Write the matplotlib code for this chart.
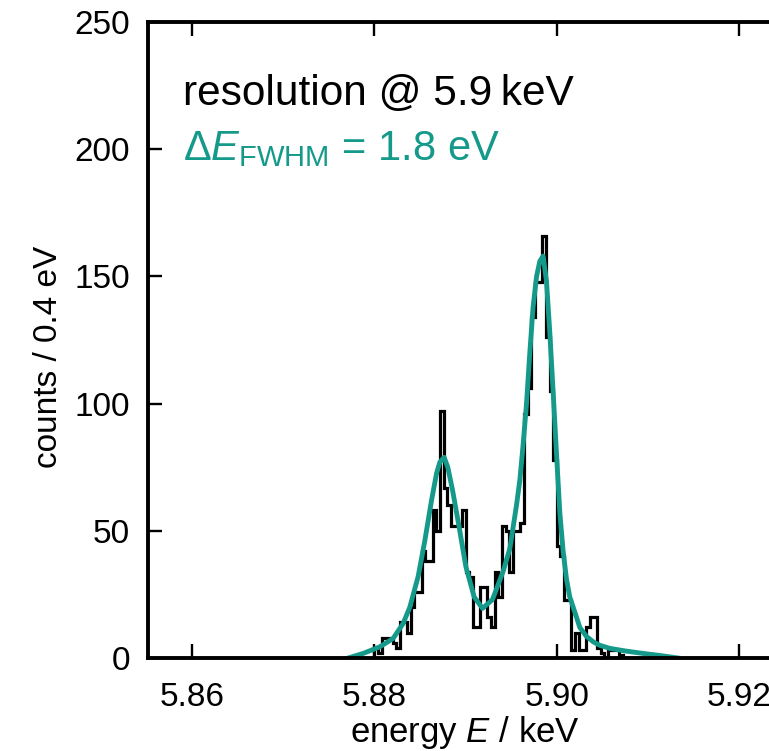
import numpy as np
import matplotlib
matplotlib.use("Agg")
import matplotlib.pyplot as plt

plt.rcParams['font.family'] = ['Liberation Sans', 'DejaVu Sans']
plt.rcParams['mathtext.fontset'] = 'custom'
plt.rcParams['mathtext.rm'] = 'Liberation Sans'
plt.rcParams['mathtext.it'] = 'Liberation Sans:italic'
plt.rcParams['mathtext.bf'] = 'Liberation Sans:bold'

# histogram, 0.4 eV bins starting at 5.8800 keV
bin_start = 5.8800
bin_width = 0.0004
counts = [4, 2, 8, 8, 8, 6, 4, 14, 14, 10,
          20, 26, 26, 42, 38, 38, 58, 50, 97, 67,
          60, 52, 52, 52, 58, 34, 32, 12, 12, 28,
          28, 16, 12, 34, 24, 52, 50, 34, 50, 50,
          53, 96, 106, 134, 148, 148, 166, 126, 105, 78,
          44, 40, 23, 23, 3, 10, 3, 3, 12, 16,
          16, 4, 2, 0, 3, 3, 3, 1, 0, 0]

# fit curve
fit_energy = [5.87713, 5.87877, 5.88060, 5.88206, 5.88316, 5.88389, 5.88480,
              5.88553, 5.88627, 5.88682, 5.88718, 5.88765, 5.88805, 5.88857,
              5.88929, 5.89003, 5.89094, 5.89186, 5.89295, 5.89411, 5.89485,
              5.89558, 5.89595, 5.89631, 5.89668, 5.89704, 5.89740, 5.89778,
              5.89814, 5.89850, 5.89887, 5.89923, 5.89959, 5.89997, 5.90033,
              5.90069, 5.90106, 5.90142, 5.90216, 5.90252, 5.90325, 5.90398,
              5.90471, 5.90581, 5.90745, 5.90946, 5.91129, 5.91329]
fit_counts = [0, 1.8, 4.4, 7.7, 13.6, 20, 32,
              46, 62, 72.6, 77, 78.9, 75, 66,
              51.6, 36, 24, 19.5, 23, 34, 43,
              60, 70, 84, 100, 120, 138, 150,
              156, 158, 148, 128, 105, 80, 57,
              42, 31, 24, 16, 12, 8.5, 6.4,
              5, 3.8, 2.8, 1.8, 1.0, 0]

x_ticks = [5.86, 5.88, 5.90, 5.92]
y_ticks = [0, 50, 100, 150, 200, 250]

teal = '#14998a'

fig = plt.figure(figsize=(7.69, 7.51), dpi=100)
ax = fig.add_axes([0.1925, 0.1238, 0.8306, 0.8469])

edges = bin_start + bin_width * np.arange(len(counts) + 1)
ax.stairs(counts, edges, color='black', lw=2.3, baseline=0)
ax.plot(fit_energy, fit_counts, color=teal, lw=3.5)

ax.set_xlim(5.8552, 5.9252)
ax.set_ylim(0, 250)
ax.set_xticks(x_ticks)
ax.set_xticklabels([f"{t:.2f}" for t in x_ticks])
ax.set_yticks(y_ticks)

for s in ax.spines.values():
    s.set_linewidth(2.8)
ax.tick_params(direction='in', length=10, width=1.7, labelsize=24,
               top=True, right=True)
ax.tick_params(axis='y', pad=13)
ax.tick_params(axis='x', pad=17)

ax.set_xlabel('energy $\\mathit{E}$ / keV', fontsize=25)
ax.xaxis.set_label_coords(0.496, -0.088)
ax.set_ylabel('counts / 0.4 eV', fontsize=24)
ax.yaxis.set_label_coords(-0.132, 0.473)

ax.text(0.0548, 0.8695, 'resolution @ 5.9\u2009keV', transform=ax.transAxes,
        fontsize=30.5, va='baseline', ha='left')
ax.text(0.0548, 0.783, '$\\mathit{\u0394E}_{\\mathrm{FWHM}}$ = 1.8 eV',
        transform=ax.transAxes, fontsize=30, va='baseline', ha='left',
        color=teal)

fig.savefig('out.png', dpi=100)
